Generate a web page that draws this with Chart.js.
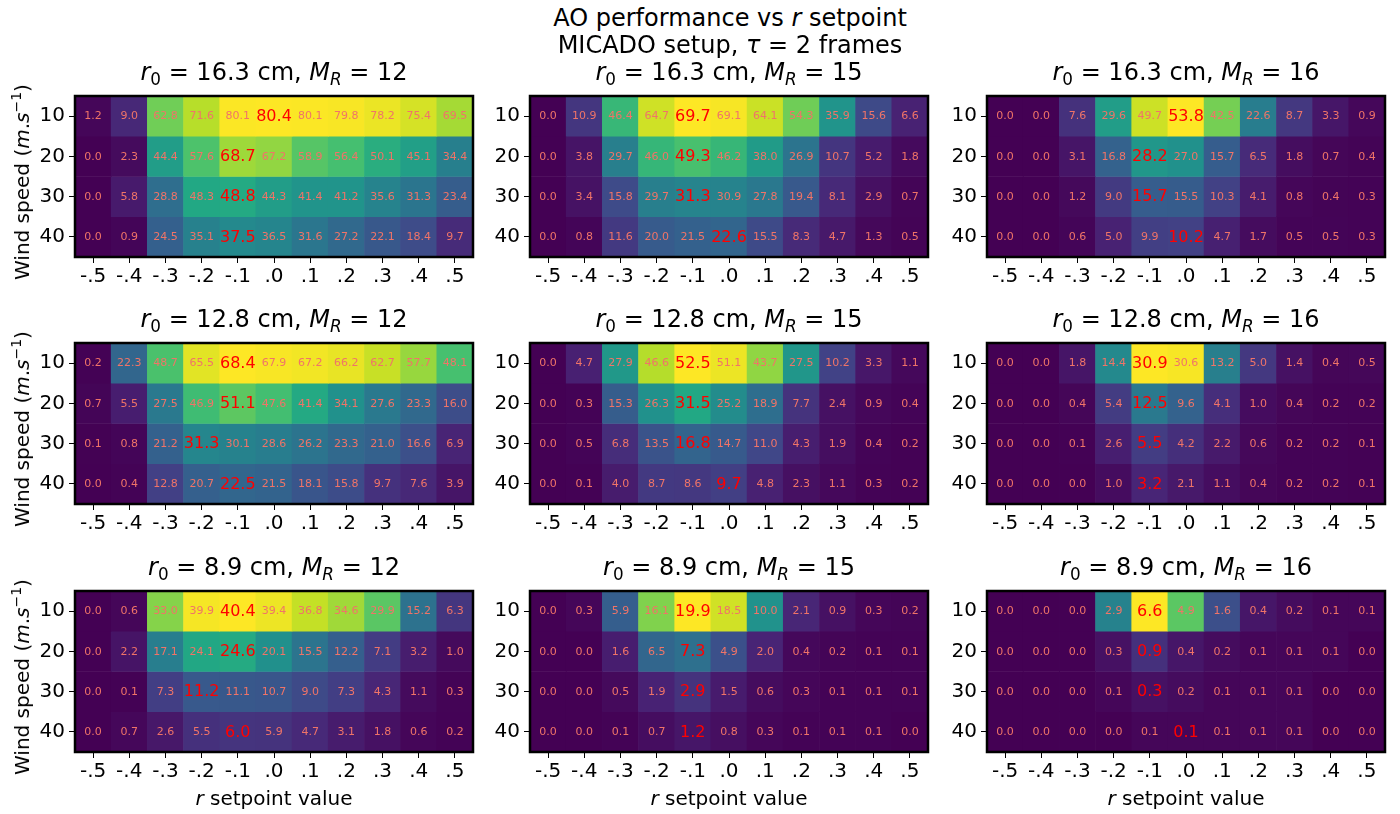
<!DOCTYPE html>
<html>
<head>
<meta charset="utf-8">
<script src="https://cdn.jsdelivr.net/npm/chart.js@4.4.1/dist/chart.umd.min.js"></script>
<style>
  html, body { margin:0; padding:0; background:#fff; }
  body { width:1400px; height:814px; position:relative; overflow:hidden; font-family:"DejaVu Sans", sans-serif; color:#000; }
  canvas { position:absolute; }
  .txt { position:absolute; white-space:nowrap; transform:translate(-50%,-50%); font-family:"DejaVu Sans", sans-serif; }
  .title { font-size:24px; }
  .ylab { font-size:20px; transform:translate(-50%,-50%) rotate(-90deg); }
  .xlab { font-size:20px; }
  sub { font-size:70%; vertical-align:-0.3em; line-height:0; }
  sup { font-size:70%; vertical-align:0.55em; line-height:0; }
</style>
</head>
<body>
<script>
// ---------------- DATA ----------------
const setpointLabels = ['-.5','-.4','-.3','-.2','-.1','.0','.1','.2','.3','.4','.5'];
const windSpeeds = ['10','20','30','40'];
const r0Values = ['16.3','12.8','8.9'];
const mrValues = ['12','15','16'];

const perf_r163_mr12 = [
  [1.2, 9.0, 62.8, 71.6, 80.1, 80.4, 80.1, 79.8, 78.2, 75.4, 69.5],
  [0.0, 2.3, 44.4, 57.6, 68.7, 67.2, 58.9, 56.4, 50.1, 45.1, 34.4],
  [0.0, 5.8, 28.8, 48.3, 48.8, 44.3, 41.4, 41.2, 35.6, 31.3, 23.4],
  [0.0, 0.9, 24.5, 35.1, 37.5, 36.5, 31.6, 27.2, 22.1, 18.4, 9.7]
];
const perf_r163_mr15 = [
  [0.0, 10.9, 46.4, 64.7, 69.7, 69.1, 64.1, 54.3, 35.9, 15.6, 6.6],
  [0.0, 3.8, 29.7, 46.0, 49.3, 46.2, 38.0, 26.9, 10.7, 5.2, 1.8],
  [0.0, 3.4, 15.8, 29.7, 31.3, 30.9, 27.8, 19.4, 8.1, 2.9, 0.7],
  [0.0, 0.8, 11.6, 20.0, 21.5, 22.6, 15.5, 8.3, 4.7, 1.3, 0.5]
];
const perf_r163_mr16 = [
  [0.0, 0.0, 7.6, 29.6, 49.7, 53.8, 42.5, 22.6, 8.7, 3.3, 0.9],
  [0.0, 0.0, 3.1, 16.8, 28.2, 27.0, 15.7, 6.5, 1.8, 0.7, 0.4],
  [0.0, 0.0, 1.2, 9.0, 15.7, 15.5, 10.3, 4.1, 0.8, 0.4, 0.3],
  [0.0, 0.0, 0.6, 5.0, 9.9, 10.2, 4.7, 1.7, 0.5, 0.5, 0.3]
];
const perf_r128_mr12 = [
  [0.2, 22.3, 48.7, 65.5, 68.4, 67.9, 67.2, 66.2, 62.7, 57.7, 48.1],
  [0.7, 5.5, 27.5, 46.9, 51.1, 47.6, 41.4, 34.1, 27.6, 23.3, 16.0],
  [0.1, 0.8, 21.2, 31.3, 30.1, 28.6, 26.2, 23.3, 21.0, 16.6, 6.9],
  [0.0, 0.4, 12.8, 20.7, 22.5, 21.5, 18.1, 15.8, 9.7, 7.6, 3.9]
];
const perf_r128_mr15 = [
  [0.0, 4.7, 27.9, 46.6, 52.5, 51.1, 43.7, 27.5, 10.2, 3.3, 1.1],
  [0.0, 0.3, 15.3, 26.3, 31.5, 25.2, 18.9, 7.7, 2.4, 0.9, 0.4],
  [0.0, 0.5, 6.8, 13.5, 16.8, 14.7, 11.0, 4.3, 1.9, 0.4, 0.2],
  [0.0, 0.1, 4.0, 8.7, 8.6, 9.7, 4.8, 2.3, 1.1, 0.3, 0.2]
];
const perf_r128_mr16 = [
  [0.0, 0.0, 1.8, 14.4, 30.9, 30.6, 13.2, 5.0, 1.4, 0.4, 0.5],
  [0.0, 0.0, 0.4, 5.4, 12.5, 9.6, 4.1, 1.0, 0.4, 0.2, 0.2],
  [0.0, 0.0, 0.1, 2.6, 5.5, 4.2, 2.2, 0.6, 0.2, 0.2, 0.1],
  [0.0, 0.0, 0.0, 1.0, 3.2, 2.1, 1.1, 0.4, 0.2, 0.2, 0.1]
];
const perf_r89_mr12 = [
  [0.0, 0.6, 33.0, 39.9, 40.4, 39.4, 36.8, 34.6, 29.9, 15.2, 6.3],
  [0.0, 2.2, 17.1, 24.1, 24.6, 20.1, 15.5, 12.2, 7.1, 3.2, 1.0],
  [0.0, 0.1, 7.3, 11.2, 11.1, 10.7, 9.0, 7.3, 4.3, 1.1, 0.3],
  [0.0, 0.7, 2.6, 5.5, 6.0, 5.9, 4.7, 3.1, 1.8, 0.6, 0.2]
];
const perf_r89_mr15 = [
  [0.0, 0.3, 5.9, 16.1, 19.9, 18.5, 10.0, 2.1, 0.9, 0.3, 0.2],
  [0.0, 0.0, 1.6, 6.5, 7.3, 4.9, 2.0, 0.4, 0.2, 0.1, 0.1],
  [0.0, 0.0, 0.5, 1.9, 2.9, 1.5, 0.6, 0.3, 0.1, 0.1, 0.1],
  [0.0, 0.0, 0.1, 0.7, 1.2, 0.8, 0.3, 0.1, 0.1, 0.1, 0.0]
];
const perf_r89_mr16 = [
  [0.0, 0.0, 0.0, 2.9, 6.6, 4.9, 1.6, 0.4, 0.2, 0.1, 0.1],
  [0.0, 0.0, 0.0, 0.3, 0.9, 0.4, 0.2, 0.1, 0.1, 0.1, 0.0],
  [0.0, 0.0, 0.0, 0.1, 0.3, 0.2, 0.1, 0.1, 0.1, 0.0, 0.0],
  [0.0, 0.0, 0.0, 0.0, 0.1, 0.1, 0.1, 0.1, 0.1, 0.0, 0.0]
];

// column index of best setpoint per wind speed (highlighted in red)
const best_r163_mr12 = [5, 4, 4, 4];
const best_r163_mr15 = [4, 4, 4, 5];
const best_r163_mr16 = [5, 4, 4, 5];
const best_r128_mr12 = [4, 4, 3, 4];
const best_r128_mr15 = [4, 4, 4, 5];
const best_r128_mr16 = [4, 4, 4, 4];
const best_r89_mr12  = [4, 4, 3, 4];
const best_r89_mr15  = [4, 4, 4, 4];
const best_r89_mr16  = [4, 4, 4, 5];

const panelValues = [
  [perf_r163_mr12, perf_r163_mr15, perf_r163_mr16],
  [perf_r128_mr12, perf_r128_mr15, perf_r128_mr16],
  [perf_r89_mr12,  perf_r89_mr15,  perf_r89_mr16]
];
const panelBest = [
  [best_r163_mr12, best_r163_mr15, best_r163_mr16],
  [best_r128_mr12, best_r128_mr15, best_r128_mr16],
  [best_r89_mr12,  best_r89_mr15,  best_r89_mr16]
];

// ---------------- STYLE / LAYOUT ----------------
const VIRIDIS = ['#440154','#482475','#414487','#355f8d','#2a788e','#21918c','#22a884','#44bf70','#7ad151','#bddf26','#fde725'];
function hexToRgb(h){ return [parseInt(h.substr(1,2),16),parseInt(h.substr(3,2),16),parseInt(h.substr(5,2),16)]; }
const VIR_RGB = VIRIDIS.map(hexToRgb);
function viridis(t){
  t = Math.max(0, Math.min(1, t));
  const p = t * (VIR_RGB.length - 1);
  const i = Math.min(Math.floor(p), VIR_RGB.length - 2);
  const f = p - i;
  const a = VIR_RGB[i], b = VIR_RGB[i+1];
  return 'rgb(' + [0,1,2].map(k => Math.round(a[k] + (b[k]-a[k])*f)).join(',') + ')';
}

const FONT = '"DejaVu Sans", sans-serif';
const colLefts = [75, 530, 987];
const plotW = 398;
const rowTops = [90, 337, 585];
const plotH = 167;
const Y_W = 70, X_H = 40, PAD = 10;
const smallTextColor = '#f07468';

const cellTextPlugin = {
  id: 'cellText',
  afterDatasetsDraw(chart) {
    const ctx = chart.ctx;
    const vals = chart.options.plugins.cellText.values;
    const best = chart.options.plugins.cellText.best;
    ctx.save();
    ctx.textAlign = 'center';
    ctx.textBaseline = 'middle';
    chart.data.datasets.forEach((ds, i) => {
      const meta = chart.getDatasetMeta(i);
      meta.data.forEach((el, j) => {
        const c = el.getCenterPoint();
        const isBest = best[i] === j;
        ctx.font = (isBest ? '16px ' : '11px ') + FONT;
        ctx.fillStyle = isBest ? '#ff0000' : smallTextColor;
        ctx.fillText(vals[i][j].toFixed(1), c.x, c.y + 0.5);
      });
    });
    ctx.restore();
  }
};
const framePlugin = {
  id: 'frame',
  afterDraw(chart) {
    const a = chart.chartArea, ctx = chart.ctx;
    ctx.save();
    ctx.strokeStyle = '#000';
    ctx.lineWidth = 2.5;
    ctx.strokeRect(a.left, a.top, a.right - a.left, a.bottom - a.top);
    ctx.restore();
  }
};

function addText(html, x, y, cls) {
  const d = document.createElement('div');
  d.className = 'txt ' + cls;
  d.innerHTML = html;
  d.style.left = x + 'px';
  d.style.top = y + 'px';
  document.body.appendChild(d);
}

for (let r = 0; r < 3; r++) {
  for (let c = 0; c < 3; c++) {
    const vals = panelValues[r][c];
    const flat = vals.flat();
    const vmin = Math.min(...flat), vmax = Math.max(...flat);
    const cv = document.createElement('canvas');
    const W = Y_W + plotW + PAD, H = PAD + plotH + X_H;
    cv.width = W; cv.height = H;
    cv.style.width = W + 'px'; cv.style.height = H + 'px';
    cv.style.left = (colLefts[c] - Y_W) + 'px';
    cv.style.top = (rowTops[r] - PAD) + 'px';
    document.body.appendChild(cv);

    const datasets = windSpeeds.map((w, i) => ({
      label: w + ' m/s',
      data: setpointLabels.map(() => [i - 0.5, i + 0.5]),
      backgroundColor: vals[i].map(v => viridis((v - vmin) / (vmax - vmin))),
      borderWidth: 0,
      grouped: false,
      barPercentage: 1,
      categoryPercentage: 1
    }));

    new Chart(cv, {
      type: 'bar',
      data: { labels: setpointLabels, datasets },
      options: {
        responsive: false,
        animation: false,
        devicePixelRatio: 1,
        layout: { padding: { top: PAD, right: PAD, left: 0, bottom: 0 } },
        plugins: {
          legend: { display: false },
          tooltip: { enabled: false },
          cellText: { values: vals, best: panelBest[r][c] }
        },
        scales: {
          x: {
            type: 'category',
            offset: true,
            grid: { drawOnChartArea: false, drawTicks: true, tickLength: 6, tickWidth: 1, tickColor: '#000', offset: false },
            border: { display: false },
            ticks: { color: '#000', font: { family: FONT, size: 20 }, padding: 2, maxRotation: 0, autoSkip: false },
            afterFit(s) { s.height = X_H; }
          },
          y: {
            type: 'linear',
            min: -0.5, max: 3.5,
            reverse: true,
            grid: { drawOnChartArea: false, drawTicks: true, tickLength: 6, tickWidth: 1, tickColor: '#000' },
            border: { display: false },
            afterBuildTicks(s) { s.ticks = windSpeeds.map((w, i) => ({ value: i })); },
            ticks: { color: '#000', font: { family: FONT, size: 20 }, padding: 4, callback: (v) => windSpeeds[v] },
            afterFit(s) { s.width = Y_W; }
          }
        }
      },
      plugins: [cellTextPlugin, framePlugin]
    });

    const cx = colLefts[c] + plotW / 2;
    addText('<i>r</i><sub>0</sub> = ' + r0Values[r] + ' cm, <i>M</i><sub><i>R</i></sub> = ' + mrValues[c],
            cx, rowTops[r] - 18, 'title');
    if (c === 0) {
      addText('Wind speed (<i>m</i>.<i>s</i><sup>−1</sup>)', 22, rowTops[r] + plotH / 2 + 8, 'ylab');
    }
    if (r === 2) {
      addText('<i>r</i> setpoint value', cx, 798, 'xlab');
    }
  }
}

addText('AO performance vs <i>r</i> setpoint', 730, 18, 'title');
addText('MICADO setup, <i>τ</i> = 2 frames', 730, 45, 'title');
</script>
</body>
</html>
